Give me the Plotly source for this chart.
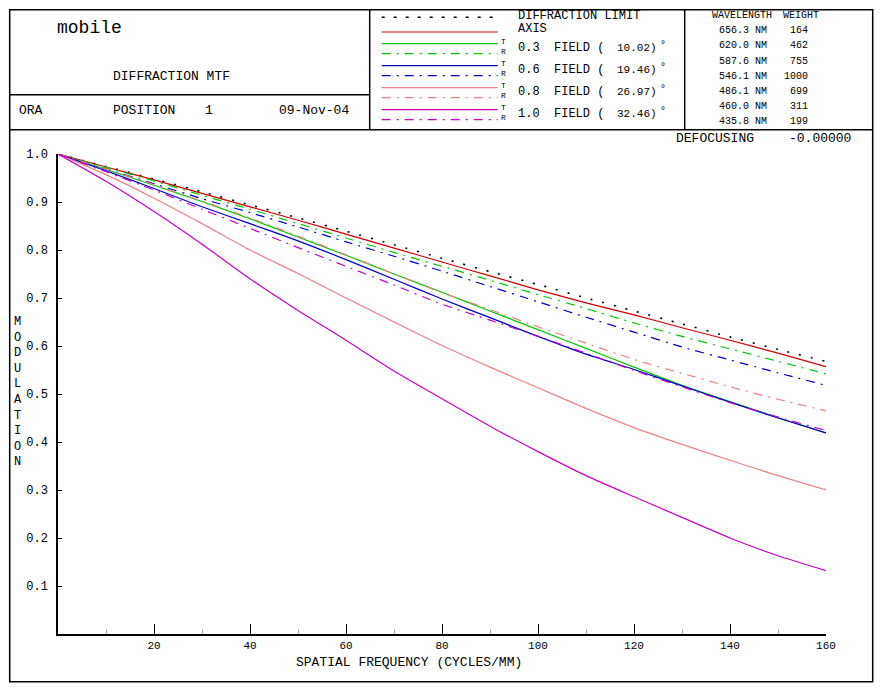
import plotly.graph_objects as go

# ---------------- data ----------------
freq = [0, 10, 20, 30, 40, 50, 60, 70, 80, 90, 100, 110, 120, 130, 140, 150, 160]

diff_limit = [1.0, 0.974, 0.948, 0.921, 0.894, 0.867, 0.839, 0.811, 0.783, 0.755, 0.728, 0.700, 0.673, 0.646, 0.619, 0.593, 0.568]
axis_mtf   = [1.0, 0.973, 0.946, 0.918, 0.890, 0.862, 0.833, 0.804, 0.775, 0.746, 0.717, 0.690, 0.665, 0.638, 0.612, 0.585, 0.557]
f03_t = [1.0, 0.968, 0.935, 0.901, 0.865, 0.827, 0.789, 0.750, 0.712, 0.673, 0.634, 0.595, 0.556, 0.518, 0.484, 0.451, 0.419]
f03_r = [1.0, 0.972, 0.944, 0.914, 0.885, 0.855, 0.825, 0.795, 0.766, 0.737, 0.707, 0.678, 0.648, 0.620, 0.594, 0.568, 0.542]
f06_t = [1.0, 0.965, 0.928, 0.890, 0.855, 0.819, 0.780, 0.739, 0.698, 0.659, 0.620, 0.583, 0.551, 0.517, 0.483, 0.450, 0.419]
f06_r = [1.0, 0.969, 0.938, 0.907, 0.878, 0.848, 0.817, 0.787, 0.756, 0.724, 0.692, 0.660, 0.629, 0.598, 0.571, 0.544, 0.518]
f08_t = [1.0, 0.957, 0.908, 0.855, 0.800, 0.751, 0.700, 0.650, 0.601, 0.556, 0.513, 0.470, 0.430, 0.395, 0.362, 0.330, 0.300]
f08_r = [1.0, 0.969, 0.936, 0.902, 0.867, 0.829, 0.790, 0.750, 0.711, 0.676, 0.640, 0.606, 0.572, 0.543, 0.515, 0.489, 0.465]
f10_t = [1.0, 0.943, 0.880, 0.812, 0.740, 0.674, 0.612, 0.548, 0.490, 0.433, 0.380, 0.330, 0.286, 0.243, 0.200, 0.163, 0.132]
f10_r = [1.0, 0.963, 0.925, 0.885, 0.845, 0.805, 0.766, 0.727, 0.687, 0.654, 0.620, 0.585, 0.549, 0.515, 0.482, 0.452, 0.424]

x_ticks = [20, 40, 60, 80, 100, 120, 140, 160]
x_minor = [10, 30, 50, 70, 90, 110, 130, 150]
y_ticks = [0.1, 0.2, 0.3, 0.4, 0.5, 0.6, 0.7, 0.8, 0.9, 1.0]

field_values = ["0.3", "0.6", "0.8", "1.0"]
field_angles = ["10.02", "19.46", "26.97", "32.46"]
wavelengths = ["656.3", "620.0", "587.6", "546.1", "486.1", "460.0", "435.8"]
weights = [164, 462, 755, 1000, 699, 311, 199]

# ---------------- styles ----------------
RED = "#D00000"
GREEN = "#00C800"
BLUE = "#0000C8"
PINK = "#F08080"
MAGENTA = "#C800C8"
DASHDOT = "9px,6px,2px,6px"
DOTTED = "2px,10px"
FONT = "Liberation Mono"

W, H = 883, 691
L, R_, T_, B_ = 58.3, 826.3, 154.3, 634.3


def px(x):
    return (x - L) / (R_ - L)


def py(y):
    return (B_ - y) / (B_ - T_)


fig = go.Figure()

fig.add_trace(go.Scatter(x=freq, y=diff_limit, mode="lines",
                         line=dict(color="black", width=1.6, dash=DOTTED,
                                   shape="spline", smoothing=0.6)))
fig.add_trace(go.Scatter(x=freq, y=axis_mtf, mode="lines",
                         line=dict(color=RED, width=1.2, shape="spline", smoothing=0.6)))
series = [(f03_t, f03_r, GREEN), (f06_t, f06_r, BLUE),
          (f08_t, f08_r, PINK), (f10_t, f10_r, MAGENTA)]
for t, r, c in series:
    fig.add_trace(go.Scatter(x=freq, y=r, mode="lines",
                             line=dict(color=c, width=1.2, dash=DASHDOT,
                                       shape="spline", smoothing=0.6)))
    fig.add_trace(go.Scatter(x=freq, y=t, mode="lines",
                             line=dict(color=c, width=1.2,
                                       shape="spline", smoothing=0.6)))

shapes = []
annotations = []


def hline(x0, x1, y, color="black", width=1.5, dash="solid"):
    shapes.append(dict(type="line", xref="paper", yref="paper",
                       x0=px(x0), x1=px(x1), y0=py(y), y1=py(y),
                       line=dict(color=color, width=width, dash=dash)))


def vline(x, y0, y1, color="black", width=1.5):
    shapes.append(dict(type="line", xref="paper", yref="paper",
                       x0=px(x), x1=px(x), y0=py(y0), y1=py(y1),
                       line=dict(color=color, width=width)))


def text(x, y, s, size=13, anchor="left", color="black"):
    annotations.append(dict(xref="paper", yref="paper", x=px(x), y=py(y),
                            text=s, showarrow=False, xanchor=anchor,
                            yanchor="middle", borderpad=0,
                            font=dict(family=FONT, size=size, color=color)))


# frame and header boxes
shapes.append(dict(type="rect", xref="paper", yref="paper",
                   x0=px(10), x1=px(873), y0=py(10), y1=py(682),
                   line=dict(color="black", width=1.5)))
hline(10, 370, 95)
hline(10, 873, 130)
vline(370, 10, 130)
vline(685, 10, 130)

# left header
text(56, 28, "mobile", size=18)
text(112, 77, "DIFFRACTION MTF", size=13)
text(18, 111, "ORA", size=13)
text(112, 111, "POSITION", size=13)
text(204, 111, "1", size=13)
text(278, 111, "09-Nov-04", size=13)

# legend
hline(382, 498, 17.5, "black", 1.5, "3px,9px")
text(517, 16, "DIFFRACTION LIMIT", size=12)
hline(382, 498, 32.3, RED, 1.2)
text(517, 29, "AXIS", size=12)
colors = [GREEN, BLUE, PINK, MAGENTA]
for k, (fv, ang, c) in enumerate(zip(field_values, field_angles, colors)):
    y0 = 44 + 22 * k
    hline(382, 498, y0, c, 1.2)
    hline(382, 498, y0 + 10, c, 1.2, DASHDOT)
    text(500, y0 - 2, "T", size=8)
    text(500, y0 + 8, "R", size=8)
    text(517, y0 + 4, f"{fv}  FIELD (", size=12)
    text(616, y0 + 4, f"{ang})", size=11)
    text(659, y0 + 2, "°", size=10)

# wavelength table
text(711, 16, "WAVELENGTH", size=10)
text(782, 16, "WEIGHT", size=10)
for k, (wl, wt) in enumerate(zip(wavelengths, weights)):
    y0 = 31 + 15.2 * k
    text(718, y0, f"{wl} NM", size=10)
    text(809, y0, str(wt), size=10, anchor="right")

# defocusing
text(675, 139, "DEFOCUSING", size=13)
text(852, 139, "-0.00000", size=13, anchor="right")

# axis titles
text(409, 662.5, "SPATIAL FREQUENCY (CYCLES/MM)", size=13, anchor="center")
annotations.append(dict(xref="paper", yref="paper", x=px(18), y=py(392),
                        text="<br>".join(list("MODULATION")), showarrow=False,
                        xanchor="center", yanchor="middle", borderpad=0,
                        font=dict(family=FONT, size=12, color="black")))

fig.update_layout(
    width=W, height=H,
    margin=dict(l=L, r=W - R_, t=T_, b=H - B_, pad=0),
    paper_bgcolor="white", plot_bgcolor="white",
    showlegend=False,
    shapes=shapes, annotations=annotations,
    xaxis=dict(range=[0, 160], showgrid=False, zeroline=False,
               showline=True, linecolor="black", linewidth=1.5,
               tickmode="array", tickvals=x_ticks,
               ticktext=[str(v) for v in x_ticks],
               ticks="inside", ticklen=10, tickcolor="black", tickwidth=1,
               minor=dict(tickmode="array", tickvals=x_minor, ticks="inside",
                          ticklen=5, tickcolor="#AAAAAA", tickwidth=1),
               tickfont=dict(family=FONT, size=11, color="black")),
    yaxis=dict(range=[0, 1], showgrid=False, zeroline=False,
               showline=True, linecolor="black", linewidth=1.5,
               tickmode="array", tickvals=y_ticks,
               ticktext=[f"{v:.1f}" for v in y_ticks],
               ticks="inside", ticklen=4, tickcolor="black", tickwidth=1,
               tickfont=dict(family=FONT, size=12, color="black"),
               ticklabelstandoff=6),
)

fig.write_html("out.html")
